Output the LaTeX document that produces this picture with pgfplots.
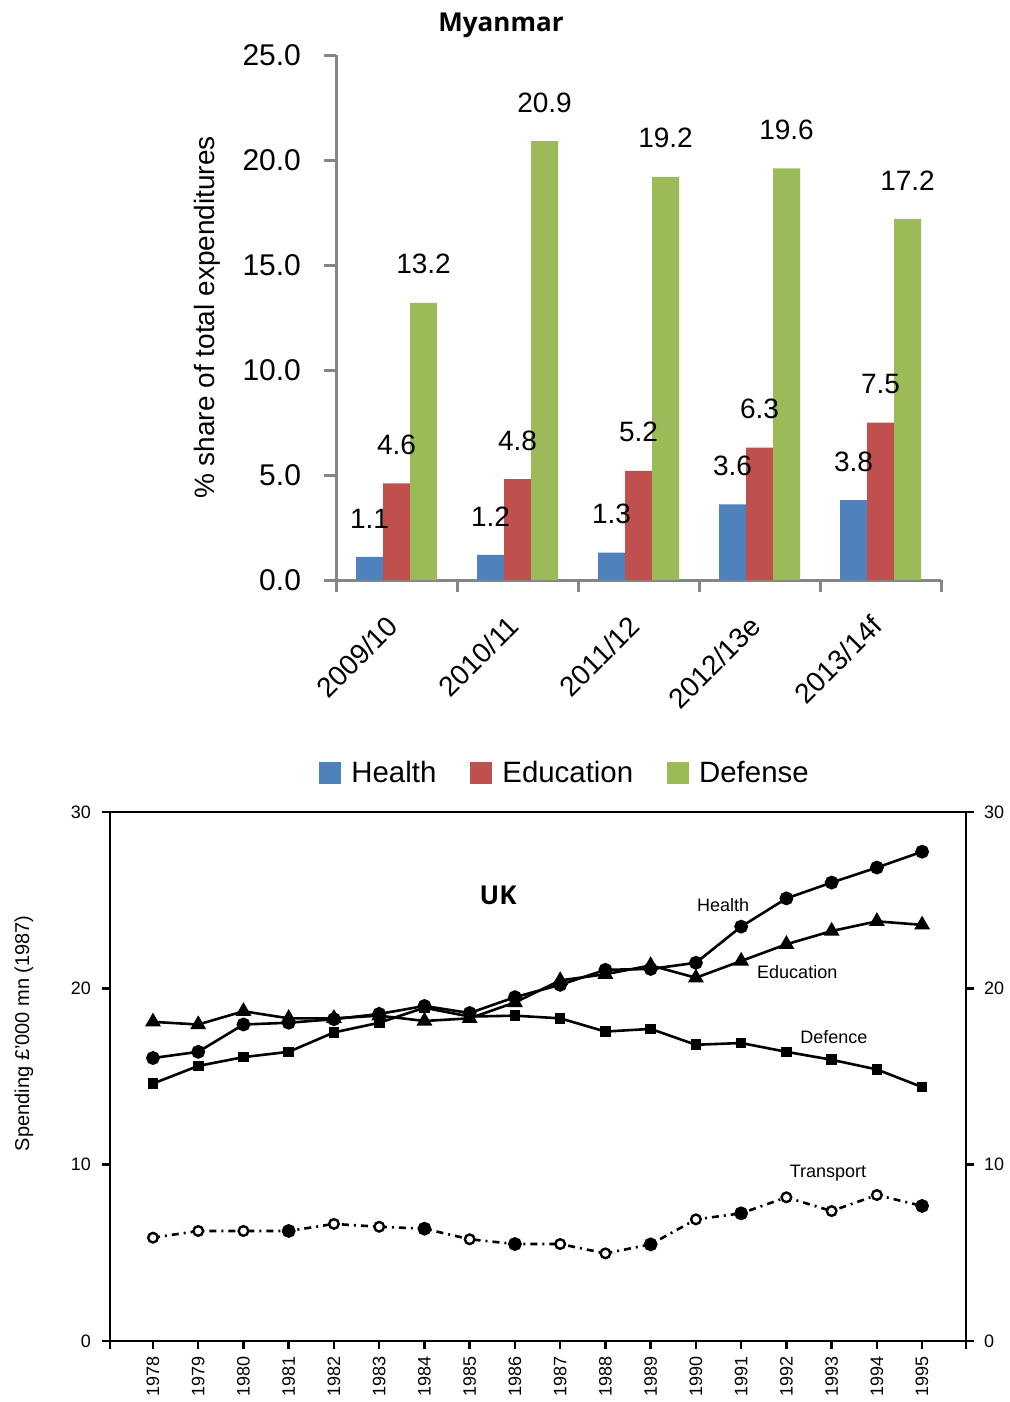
\documentclass[border=0pt]{standalone}
\usepackage{pgfplots}
\pgfplotsset{compat=1.18}
\usepackage{fontspec}
\setmainfont{Liberation Sans}
\newfontfamily\titlefont{Open Sans}
\definecolor{hblue}{HTML}{4F81BD}
\definecolor{ered}{HTML}{C0504D}
\definecolor{dgreen}{HTML}{9BBB59}
\definecolor{axgray}{HTML}{868686}
\begin{document}
\begin{tikzpicture}
\useasboundingbox (0,0) rectangle (505pt,-701pt);
\node[font=\titlefont\bfseries\fontsize{13}{15}\selectfont] at (250.5pt,-12.5pt) {Myanmar};
% ---------------- Myanmar bar chart ----------------
\begin{axis}[
  at={(168pt,-290pt)}, anchor=south west,
  width=302.5pt, height=262.5pt, scale only axis,
  xmin=-0.5, xmax=4.5, ymin=0, ymax=25,
  axis lines*=left,
  axis line style={draw=axgray, line width=1.5pt},
  tick align=outside, major tick length=6pt,
  tick style={draw=axgray, line width=1.5pt},
  ytick={0,5,...,25},
  /pgf/number format/.cd, fixed, fixed zerofill, precision=1, assume math mode=true, /pgfplots/.cd,
  ticklabel style={font=\fontsize{15}{17}\selectfont},
  yticklabel style={xshift=-8pt},
  xtick={-0.5,0.5,...,4.5}, xticklabels={},
  extra x ticks={0,1,2,3,4},
  extra x tick labels={2009/10,2010/11,2011/12,2012/13e,2013/14f},
  extra x tick style={major tick length=0pt, xticklabel style={rotate=45, anchor=north east, xshift=-12.4pt, yshift=-4.6pt, font=\fontsize{14}{16}\selectfont}},
  ylabel={\% share of total expenditures},
  ylabel style={font=\fontsize{14}{16}\selectfont, at={(axis description cs:-0.2132,0.5)}, anchor=center},
  ybar=0pt, bar width=13.5pt,
  every axis plot/.append style={draw=none, legend image code/.code={\fill[##1] (0pt,-5.5pt) rectangle (11pt,5.5pt);}},
  nodes near coords,
  every node near coord/.append style={font=\fontsize{14}{16}\selectfont, text=black, anchor=center, yshift=19.25pt},
  legend columns=3,
  legend style={at={(-0.038,-0.368)}, anchor=west, draw=none, font=\fontsize{14.7}{17}\selectfont,
    /tikz/every odd column/.append style={column sep=3pt},
    /tikz/every even column/.append style={column sep=15pt}},
]
\addplot[fill=hblue] coordinates {(0,1.1) (1,1.2) (2,1.3) (3,3.6) (4,3.8)};
\addplot[fill=ered] coordinates {(0,4.6) (1,4.8) (2,5.2) (3,6.3) (4,7.5)};
\addplot[fill=dgreen] coordinates {(0,13.2) (1,20.9) (2,19.2) (3,19.6) (4,17.2)};
\legend{Health,Education,Defense}
\end{axis}
% ---------------- UK line chart ----------------
\begin{axis}[
  at={(55pt,-670.5pt)}, anchor=south west,
  width=428pt, height=264.5pt, scale only axis,
  xmin=1977.05, xmax=1995.97, ymin=0, ymax=30,
  axis line style={line width=1.2pt},
  tick align=outside, major tick length=4pt,
  tick style={line width=1.2pt, black},
  xtick={1978,...,1995},
  extra x ticks={1977.05,1995.97}, extra x tick labels={},
  xtick pos=bottom, ytick pos=left,
  ytick={0,10,20,30},
  /pgf/number format/.cd, 1000 sep={}, assume math mode=true, /pgfplots/.cd,
  ticklabel style={font=\fontsize{9}{11}\selectfont},
  yticklabel style={xshift=-2pt},
  xticklabel style={rotate=90, anchor=east},
  ylabel={Spending £'000 mn (1987)},
  ylabel style={font=\fontsize{10}{12}\selectfont, at={(axis description cs:-0.1005,0.582)}, anchor=center},
  every axis plot/.append style={black, line width=1.3pt},
  clip=false,
]
\addplot[mark=*, mark size=2.8pt] coordinates {
(1978,16.05) (1979,16.4) (1980,17.95) (1981,18.05) (1982,18.25) (1983,18.55) (1984,19.0) (1985,18.6) (1986,19.5)
(1987,20.2) (1988,21.05) (1989,21.1) (1990,21.45) (1991,23.5) (1992,25.1) (1993,26.0) (1994,26.85) (1995,27.75)};
\addplot[mark=triangle*, mark size=3.3pt] coordinates {
(1978,18.1) (1979,17.95) (1980,18.7) (1981,18.3) (1982,18.3) (1983,18.45) (1984,18.15) (1985,18.3) (1986,19.2)
(1987,20.45) (1988,20.8) (1989,21.3) (1990,20.6) (1991,21.55) (1992,22.5) (1993,23.25) (1994,23.8) (1995,23.6)};
\addplot[mark=square*, mark size=2pt] coordinates {
(1978,14.6) (1979,15.6) (1980,16.1) (1981,16.4) (1982,17.5) (1983,18.05) (1984,18.9) (1985,18.4) (1986,18.45)
(1987,18.3) (1988,17.55) (1989,17.7) (1990,16.8) (1991,16.9) (1992,16.4) (1993,15.95) (1994,15.4) (1995,14.4)};
\addplot[dash pattern=on 3.5pt off 2.5pt on 1pt off 2.5pt, mark=*, mark size=2.4pt, mark options={solid, fill=white, line width=1.2pt}] coordinates {
(1978,5.86) (1979,6.24) (1980,6.24) (1981,6.24) (1982,6.64) (1983,6.48) (1984,6.37) (1985,5.77) (1986,5.5)
(1987,5.5) (1988,4.97) (1989,5.48) (1990,6.9) (1991,7.24) (1992,8.15) (1993,7.37) (1994,8.28) (1995,7.66)};
\addplot[only marks, mark=*, mark size=2.8pt] coordinates {
(1981,6.24) (1984,6.37) (1986,5.5) (1989,5.48) (1991,7.24) (1995,7.66)};
\node[font=\fontsize{9}{11}\selectfont] at (axis cs:1990.6,24.73) {Health};
\node[font=\fontsize{9}{11}\selectfont] at (axis cs:1992.24,20.93) {Education};
\node[font=\fontsize{9}{11}\selectfont] at (axis cs:1993.05,17.24) {Defence};
\node[font=\fontsize{9}{11}\selectfont] at (axis cs:1992.92,9.53) {Transport};
\node[font=\titlefont\bfseries\fontsize{13}{15}\selectfont] at (axis cs:1985.63,25.3) {UK};
\end{axis}
\begin{axis}[
  at={(55pt,-670.5pt)}, anchor=south west,
  width=428pt, height=264.5pt, scale only axis,
  xmin=1977.05, xmax=1995.97, ymin=0, ymax=30,
  axis x line=none, axis y line*=right,
  axis line style={line width=1.2pt},
  tick align=outside, major tick length=4pt,
  tick style={line width=1.2pt, black},
  ytick={0,10,20,30},
  /pgf/number format/.cd, assume math mode=true, /pgfplots/.cd,
  ticklabel style={font=\fontsize{9}{11}\selectfont},
  yticklabel style={xshift=1.5pt},
]
\addplot[draw=none] coordinates {(1978,0)};
\end{axis}
\end{tikzpicture}
\end{document}
